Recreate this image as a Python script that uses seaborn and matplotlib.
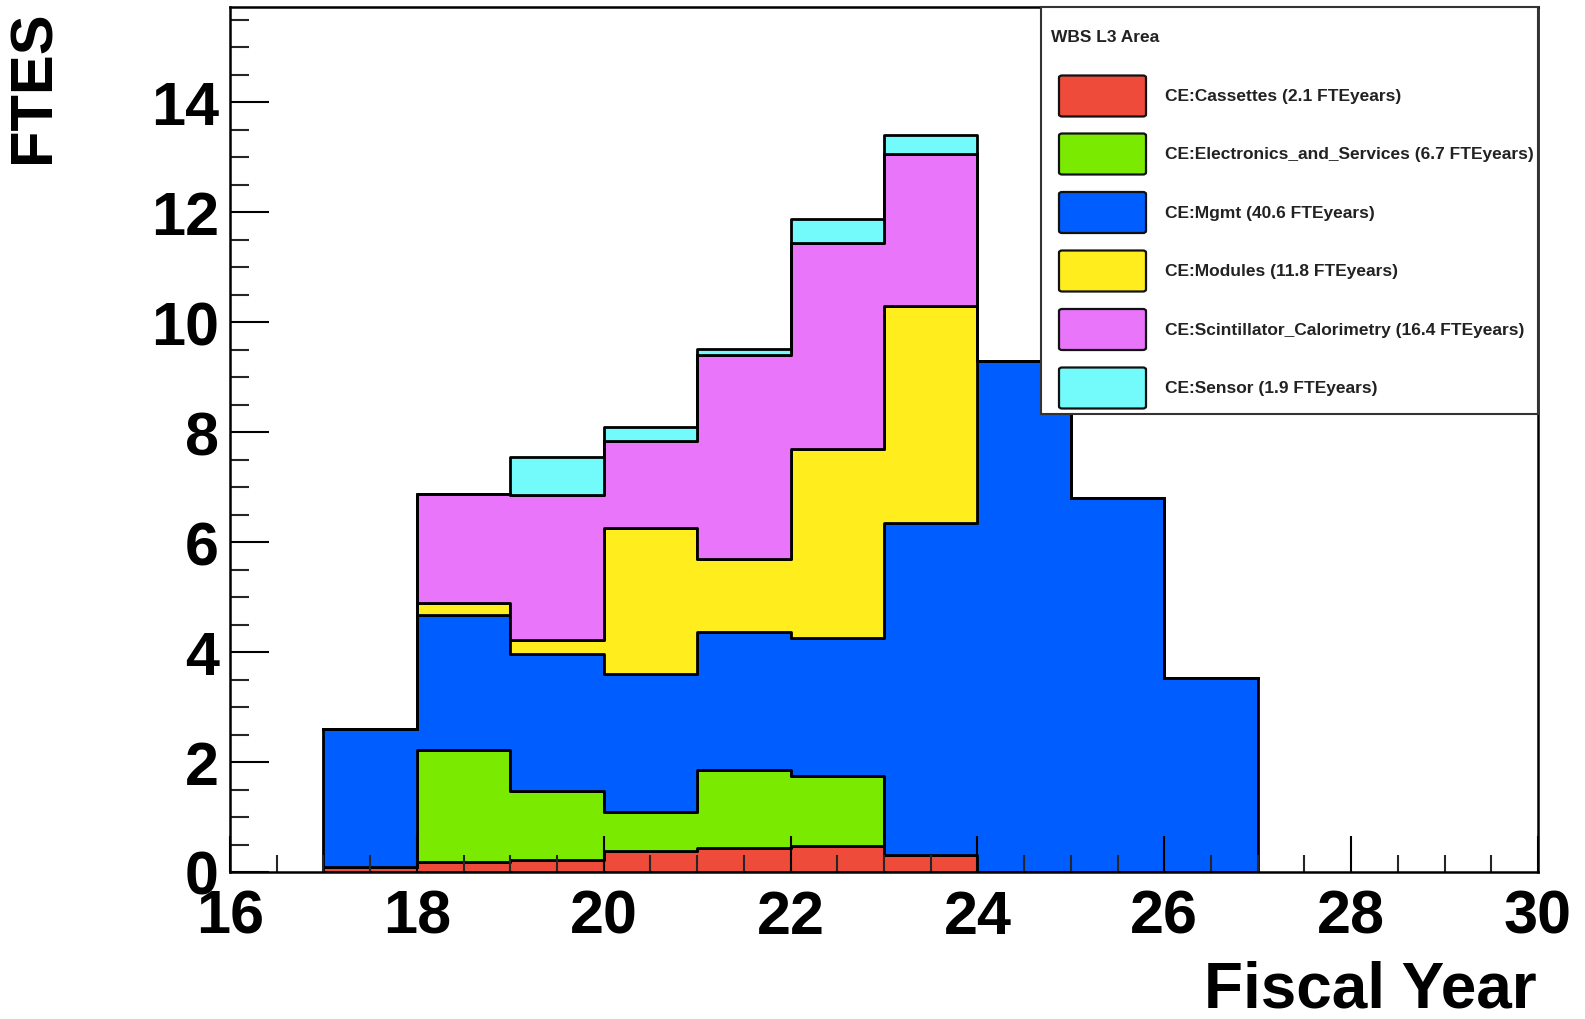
import numpy as np
import pandas as pd
import matplotlib
matplotlib.use("Agg")
import matplotlib.pyplot as plt
import seaborn as sns
from matplotlib.patches import Rectangle, FancyBboxPatch
from matplotlib.ticker import MultipleLocator

# ---------------- data ----------------
years = [17, 18, 19, 20, 21, 22, 23, 24, 25, 26]          # bin lower edges (fiscal year)
areas = ["CE:Cassettes", "CE:Electronics_and_Services", "CE:Mgmt",
         "CE:Modules", "CE:Scintillator_Calorimetry", "CE:Sensor"]
area_totals = ["2.1", "6.7", "40.6", "11.8", "16.4", "1.9"]   # FTEyears shown in legend

cassettes   = [0.10, 0.19, 0.22, 0.38, 0.43, 0.48, 0.31, 0.00, 0.00, 0.00]
electronics = [0.00, 2.02, 1.25, 0.72, 1.43, 1.27, 0.00, 0.00, 0.00, 0.00]
mgmt        = [2.50, 2.47, 2.50, 2.50, 2.50, 2.50, 6.03, 9.30, 6.80, 3.53]
modules     = [0.00, 0.21, 0.24, 2.65, 1.33, 3.45, 3.96, 0.00, 0.00, 0.00]
scint       = [0.00, 1.98, 2.65, 1.58, 3.71, 3.73, 2.76, 0.00, 0.00, 0.00]
sensor      = [0.00, 0.00, 0.68, 0.27, 0.11, 0.44, 0.35, 0.00, 0.00, 0.00]

colors = ["#EE4B3A", "#7AEB00", "#005DFF", "#FFED1E", "#E875FA", "#73FAFA"]

series = [cassettes, electronics, mgmt, modules, scint, sensor]
rows = []
for area, vals in zip(areas, series):
    for y, v in zip(years, vals):
        rows.append({"year": y + 0.5, "area": area, "fte": v})
df = pd.DataFrame(rows)
edges = years + [years[-1] + 1]

# ---------------- style ----------------
sns.set_theme(style="white")
plt.rcParams["font.family"] = ["Liberation Sans", "DejaVu Sans"]
plt.rcParams["font.weight"] = "bold"

W, H = 1585, 1020
fig = plt.figure(figsize=(W / 100, H / 100), dpi=100)
fig.patch.set_facecolor("white")
ax = fig.add_axes([230 / W, 1 - 873 / H, (1538 - 230) / W, (873 - 8) / H])

sns.histplot(data=df, x="year", weights="fte", hue="area",
             hue_order=areas[::-1], palette=dict(zip(areas, colors)),
             multiple="stack", element="step", bins=edges,
             alpha=1, edgecolor="black", linewidth=2.0,
             legend=False, ax=ax)

ax.set_axisbelow(False)
ax.set_xlim(16, 30)
ax.set_ylim(0, 15.73)
ax.set_xlabel("")
ax.set_ylabel("")

ax.xaxis.set_major_locator(MultipleLocator(2))
ax.xaxis.set_minor_locator(MultipleLocator(0.5))
ax.yaxis.set_major_locator(MultipleLocator(2))
ax.yaxis.set_minor_locator(MultipleLocator(0.5))

ax.tick_params(axis="x", which="major", direction="in", length=26, width=1.5,
               labelsize=44, pad=12, color="black", labelcolor="black",
               bottom=True, top=False)
ax.tick_params(axis="x", which="minor", direction="in", length=12, width=1.5,
               bottom=True, top=False)
ax.tick_params(axis="y", which="major", direction="in", length=28, width=1.5,
               labelsize=44, pad=8, color="black", labelcolor="black",
               left=True, right=False)
ax.tick_params(axis="y", which="minor", direction="in", length=14, width=1.5,
               left=True, right=False)
for lab in ax.get_xticklabels() + ax.get_yticklabels():
    lab.set_fontweight("bold")

for sp in ax.spines.values():
    sp.set_visible(True)
    sp.set_color("black")
    sp.set_linewidth(1.8)
    sp.set_zorder(10)

# axis titles
fig.text(1537 / W, 1 - 1008 / H, "Fiscal Year", ha="right", va="baseline",
         fontsize=46, fontweight="bold", color="black")
fig.text(34.5 / W, 1 - 10 / H, "FTES", ha="center", va="top", rotation=90,
         fontsize=43, fontweight="bold", color="black")

# ---------------- legend (ROOT style box) ----------------
def fx(px):
    return px / W

def fy(py):
    return 1 - py / H

box = Rectangle((fx(1041), fy(415)), fx(1538) - fx(1041), fy(8) - fy(415),
                transform=fig.transFigure, facecolor="white",
                edgecolor="#333333", linewidth=1.5, zorder=20)
fig.patches.append(box)
fig.text(fx(1051), fy(37), "WBS L3 Area", ha="left", va="center",
         fontsize=12.5, fontweight="bold", color="#222222", zorder=21)

row_centers = [97, 155, 213.5, 272, 330.5, 389]
sw_h = 41
for area, tot, col, cy in zip(areas, area_totals, colors, row_centers):
    sw = FancyBboxPatch((fx(1059), fy(cy + sw_h / 2)),
                        fx(1146) - fx(1059), sw_h / H,
                        boxstyle="round,pad=0,rounding_size=0.002",
                        transform=fig.transFigure, facecolor=col,
                        edgecolor="#111111", linewidth=1.6, zorder=21)
    fig.patches.append(sw)
    fig.text(fx(1165), fy(cy), f"{area} ({tot} FTEyears)", ha="left",
             va="center", fontsize=12.5, fontweight="bold",
             color="#222222", zorder=21)

fig.savefig("out.png", dpi=100, facecolor="white")
